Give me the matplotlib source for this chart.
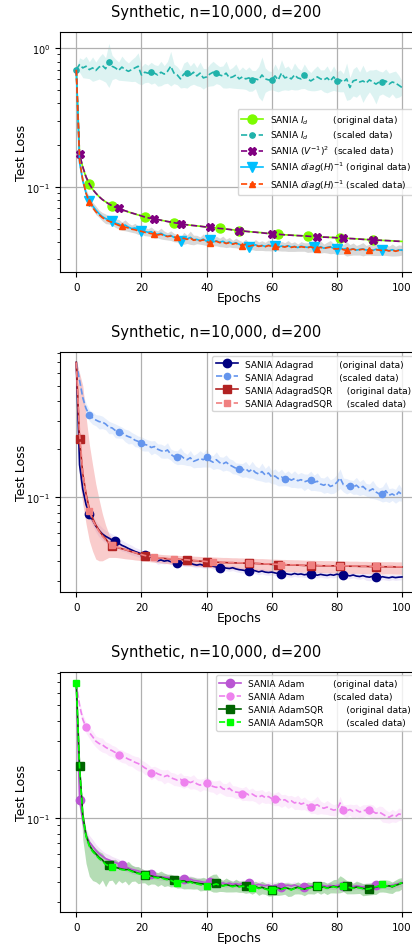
import numpy as np
import matplotlib
matplotlib.use("Agg")
from matplotlib import pyplot as plt

epochs = np.arange(101)
title = "Synthetic, n=10,000, d=200"

# ---- panel 1 : SANIA I_d / (V^-1)^2 / diag(H)^-1 ----
id_orig = [
    0.700, 0.172, 0.138, 0.117, 0.104, 0.096, 0.090, 0.085, 0.081, 0.078,
    0.0755, 0.0732, 0.0713, 0.0698, 0.0684, 0.0671, 0.0659, 0.0648, 0.0637, 0.0627,
    0.0618, 0.0607, 0.0599, 0.0592, 0.0586, 0.0580, 0.0574, 0.0569, 0.0563, 0.0558,
    0.0553, 0.0547, 0.0541, 0.0537, 0.0533, 0.0529, 0.0526, 0.0523, 0.0520, 0.0517,
    0.0514, 0.0511, 0.0508, 0.0505, 0.0502, 0.0499, 0.0496, 0.0493, 0.0490, 0.0487,
    0.0484, 0.0481, 0.0478, 0.0476, 0.0473, 0.0471, 0.0469, 0.0467, 0.0464, 0.0461,
    0.0459, 0.0457, 0.0455, 0.0453, 0.0451, 0.0450, 0.0448, 0.0447, 0.0445, 0.0444,
    0.0443, 0.0442, 0.0440, 0.0438, 0.0437, 0.0436, 0.0434, 0.0433, 0.0432, 0.0431,
    0.0430, 0.0429, 0.0427, 0.0426, 0.0424, 0.0423, 0.0422, 0.0420, 0.0419, 0.0417,
    0.0416, 0.0415, 0.0414, 0.0413, 0.0411, 0.0410, 0.0409, 0.0408, 0.0406, 0.0405,
    0.0404]
id_scaled = [
    0.70, 0.76, 0.72, 0.74, 0.70, 0.72, 0.69, 0.73, 0.75, 0.71,
    0.80, 0.74, 0.72, 0.69, 0.73, 0.70, 0.68, 0.70, 0.72, 0.74,
    0.64, 0.67, 0.66, 0.67, 0.66, 0.64, 0.67, 0.65, 0.68, 0.74,
    0.66, 0.64, 0.60, 0.65, 0.66, 0.64, 0.67, 0.63, 0.66, 0.61,
    0.62, 0.65, 0.67, 0.66, 0.64, 0.63, 0.66, 0.61, 0.62, 0.64,
    0.60, 0.62, 0.60, 0.61, 0.59, 0.60, 0.59, 0.64, 0.60, 0.59,
    0.59, 0.63, 0.59, 0.66, 0.61, 0.62, 0.60, 0.64, 0.61, 0.60,
    0.64, 0.60, 0.58, 0.60, 0.62, 0.60, 0.59, 0.61, 0.58, 0.62,
    0.58, 0.59, 0.57, 0.60, 0.52, 0.58, 0.59, 0.57, 0.58, 0.56,
    0.59, 0.57, 0.55, 0.57, 0.57, 0.58, 0.55, 0.57, 0.56, 0.54,
    0.52]
id_scaled_spread = [
    0.03, 0.12, 0.15, 0.18, 0.14, 0.20, 0.15, 0.18, 0.22, 0.20,
    0.35, 0.20, 0.16, 0.15, 0.20, 0.17, 0.15, 0.18, 0.20, 0.25,
    0.15, 0.16, 0.14, 0.18, 0.15, 0.17, 0.20, 0.15, 0.18, 0.28,
    0.16, 0.15, 0.14, 0.20, 0.22, 0.16, 0.18, 0.15, 0.20, 0.17,
    0.15, 0.18, 0.20, 0.16, 0.15, 0.18, 0.22, 0.15, 0.17, 0.20,
    0.15, 0.18, 0.16, 0.20, 0.17, 0.15, 0.25, 0.35, 0.20, 0.16,
    0.15, 0.22, 0.18, 0.25, 0.18, 0.20, 0.16, 0.22, 0.18, 0.15,
    0.20, 0.17, 0.15, 0.18, 0.20, 0.16, 0.18, 0.22, 0.16, 0.20,
    0.16, 0.18, 0.15, 0.30, 0.18, 0.22, 0.25, 0.18, 0.30, 0.20,
    0.18, 0.22, 0.28, 0.20, 0.18, 0.22, 0.20, 0.18, 0.22, 0.18,
    0.12]
vinv_scaled = [
    0.700, 0.172, 0.139, 0.118, 0.105, 0.096, 0.090, 0.085, 0.081, 0.078,
    0.0752, 0.0730, 0.0712, 0.0700, 0.0685, 0.0672, 0.0660, 0.0648, 0.0638, 0.0628,
    0.0617, 0.0606, 0.0598, 0.0592, 0.0588, 0.0581, 0.0575, 0.0568, 0.0562, 0.0557,
    0.0552, 0.0546, 0.0540, 0.0536, 0.0532, 0.0529, 0.0526, 0.0523, 0.0520, 0.0516,
    0.0513, 0.0510, 0.0508, 0.0505, 0.0501, 0.0499, 0.0496, 0.0493, 0.0489, 0.0486,
    0.0484, 0.0481, 0.0478, 0.0475, 0.0473, 0.0471, 0.0468, 0.0466, 0.0463, 0.0461,
    0.0458, 0.0456, 0.0455, 0.0453, 0.0451, 0.0449, 0.0448, 0.0446, 0.0445, 0.0444,
    0.0443, 0.0441, 0.0439, 0.0438, 0.0437, 0.0435, 0.0434, 0.0433, 0.0432, 0.0431,
    0.0429, 0.0428, 0.0427, 0.0425, 0.0424, 0.0423, 0.0421, 0.0420, 0.0418, 0.0417,
    0.0416, 0.0415, 0.0413, 0.0412, 0.0411, 0.0410, 0.0409, 0.0407, 0.0406, 0.0405,
    0.0404]
diag_orig = [
    0.700, 0.150, 0.110, 0.090, 0.079, 0.073, 0.068, 0.064, 0.061, 0.059,
    0.0580, 0.0563, 0.0548, 0.0540, 0.0522, 0.0530, 0.0512, 0.0500, 0.0505, 0.0488,
    0.0482, 0.0478, 0.0470, 0.0475, 0.0458, 0.0455, 0.0462, 0.0448, 0.0440, 0.0446,
    0.0432, 0.0425, 0.0405, 0.0428, 0.0420, 0.0432, 0.0415, 0.0418, 0.0410, 0.0420,
    0.0405, 0.0413, 0.0400, 0.0408, 0.0398, 0.0405, 0.0392, 0.0400, 0.0388, 0.0395,
    0.0385, 0.0380, 0.0388, 0.0370, 0.0375, 0.0382, 0.0374, 0.0378, 0.0372, 0.0380,
    0.0375, 0.0376, 0.0368, 0.0374, 0.0370, 0.0376, 0.0368, 0.0372, 0.0365, 0.0373,
    0.0369, 0.0366, 0.0372, 0.0366, 0.0364, 0.0370, 0.0361, 0.0366, 0.0370, 0.0360,
    0.0356, 0.0362, 0.0355, 0.0360, 0.0352, 0.0358, 0.0350, 0.0354, 0.0357, 0.0350,
    0.0354, 0.0348, 0.0355, 0.0351, 0.0349, 0.0352, 0.0346, 0.0352, 0.0345, 0.0350,
    0.0350]
diag_spread = [
    0.02, 0.06, 0.07, 0.07, 0.06, 0.06, 0.07, 0.06, 0.07, 0.08,
    0.07, 0.06, 0.07, 0.08, 0.07, 0.09, 0.07, 0.06, 0.08, 0.07,
    0.06, 0.07, 0.06, 0.08, 0.07, 0.06, 0.09, 0.07, 0.06, 0.08,
    0.07, 0.06, 0.07, 0.10, 0.07, 0.11, 0.08, 0.07, 0.06, 0.09,
    0.07, 0.08, 0.06, 0.08, 0.07, 0.09, 0.07, 0.08, 0.06, 0.08,
    0.07, 0.06, 0.08, 0.07, 0.06, 0.09, 0.07, 0.08, 0.07, 0.09,
    0.08, 0.07, 0.06, 0.08, 0.07, 0.09, 0.07, 0.08, 0.06, 0.08,
    0.07, 0.08, 0.09, 0.07, 0.08, 0.10, 0.07, 0.09, 0.11, 0.08,
    0.09, 0.10, 0.08, 0.12, 0.09, 0.10, 0.08, 0.09, 0.11, 0.08,
    0.09, 0.08, 0.10, 0.09, 0.08, 0.09, 0.08, 0.10, 0.08, 0.09,
    0.08]
diag_scaled = [
    0.700, 0.155, 0.112, 0.090, 0.0775, 0.071, 0.066, 0.063, 0.060, 0.058,
    0.0565, 0.0555, 0.0540, 0.0528, 0.0518, 0.0512, 0.0505, 0.0495, 0.0490, 0.0482,
    0.0478, 0.0470, 0.0465, 0.0460, 0.0456, 0.0450, 0.0455, 0.0445, 0.0438, 0.0442,
    0.0435, 0.0432, 0.0420, 0.0426, 0.0418, 0.0428, 0.0412, 0.0416, 0.0408, 0.0415,
    0.0402, 0.0395, 0.0398, 0.0405, 0.0396, 0.0400, 0.0390, 0.0396, 0.0386, 0.0392,
    0.0382, 0.0377, 0.0385, 0.0372, 0.0378, 0.0380, 0.0372, 0.0376, 0.0370, 0.0377,
    0.0373, 0.0372, 0.0367, 0.0372, 0.0368, 0.0374, 0.0366, 0.0370, 0.0364, 0.0370,
    0.0367, 0.0364, 0.0369, 0.0362, 0.0358, 0.0366, 0.0360, 0.0364, 0.0367, 0.0358,
    0.0356, 0.0360, 0.0352, 0.0348, 0.0351, 0.0356, 0.0349, 0.0352, 0.0355, 0.0349,
    0.0353, 0.0347, 0.0352, 0.0350, 0.0347, 0.0350, 0.0345, 0.0350, 0.0343, 0.0348,
    0.0348]

# ---- panel 2 : Adagrad ----
adagrad_orig = [
    0.700, 0.160, 0.112, 0.090, 0.079, 0.072, 0.066, 0.062, 0.059, 0.057,
    0.0555, 0.0540, 0.0530, 0.0515, 0.0500, 0.0490, 0.0478, 0.0468, 0.0458, 0.0450,
    0.0442, 0.0436, 0.0428, 0.0420, 0.0415, 0.0400, 0.0405, 0.0398, 0.0402, 0.0395,
    0.0390, 0.0388, 0.0392, 0.0385, 0.0383, 0.0387, 0.0380, 0.0376, 0.0380, 0.0375,
    0.0374, 0.0376, 0.0370, 0.0366, 0.0362, 0.0366, 0.0360, 0.0358, 0.0362, 0.0356,
    0.0352, 0.0350, 0.0347, 0.0344, 0.0350, 0.0346, 0.0341, 0.0345, 0.0340, 0.0338,
    0.0340, 0.0336, 0.0333, 0.0331, 0.0334, 0.0330, 0.0328, 0.0333, 0.0329, 0.0331,
    0.0327, 0.0330, 0.0331, 0.0328, 0.0325, 0.0329, 0.0326, 0.0324, 0.0328, 0.0325,
    0.0330, 0.0327, 0.0328, 0.0325, 0.0322, 0.0326, 0.0321, 0.0319, 0.0323, 0.0318,
    0.0316, 0.0320, 0.0316, 0.0314, 0.0318, 0.0315, 0.0313, 0.0317, 0.0314, 0.0316,
    0.0317]
adagrad_orig_spread = [
    0.01, 0.05, 0.06, 0.06, 0.07, 0.08, 0.08, 0.09, 0.09, 0.09,
    0.09, 0.09, 0.08, 0.08, 0.08, 0.07, 0.07, 0.07, 0.06, 0.06,
    0.06, 0.05, 0.05, 0.05, 0.05, 0.05, 0.05, 0.04, 0.04, 0.04,
    0.04, 0.04, 0.04, 0.04, 0.04, 0.04, 0.04, 0.04, 0.04, 0.04,
    0.04, 0.04, 0.04, 0.04, 0.04, 0.04, 0.04, 0.04, 0.04, 0.04,
    0.04, 0.04, 0.04, 0.04, 0.04, 0.04, 0.04, 0.04, 0.04, 0.04,
    0.04, 0.04, 0.04, 0.04, 0.04, 0.04, 0.04, 0.04, 0.04, 0.04,
    0.04, 0.04, 0.04, 0.04, 0.04, 0.04, 0.04, 0.04, 0.04, 0.04,
    0.04, 0.04, 0.04, 0.04, 0.04, 0.04, 0.04, 0.04, 0.04, 0.05,
    0.05, 0.05, 0.05, 0.05, 0.04, 0.04, 0.04, 0.04, 0.04, 0.04,
    0.04]
adagrad_scaled = [
    0.70, 0.54, 0.42, 0.36, 0.327, 0.315, 0.305, 0.298, 0.296, 0.288,
    0.275, 0.272, 0.262, 0.258, 0.255, 0.245, 0.240, 0.236, 0.228, 0.224,
    0.218, 0.214, 0.212, 0.205, 0.208, 0.200, 0.196, 0.193, 0.198, 0.186,
    0.180, 0.178, 0.183, 0.176, 0.172, 0.177, 0.168, 0.171, 0.175, 0.172,
    0.178, 0.170, 0.166, 0.172, 0.165, 0.162, 0.166, 0.160, 0.156, 0.152,
    0.150, 0.148, 0.151, 0.145, 0.150, 0.143, 0.140, 0.145, 0.138, 0.142,
    0.134, 0.136, 0.131, 0.134, 0.130, 0.132, 0.128, 0.131, 0.127, 0.129,
    0.125, 0.127, 0.128, 0.124, 0.126, 0.121, 0.119, 0.122, 0.117, 0.119,
    0.124, 0.132, 0.120, 0.118, 0.118, 0.116, 0.119, 0.114, 0.117, 0.112,
    0.110, 0.113, 0.108, 0.105, 0.105, 0.110, 0.103, 0.105, 0.102, 0.108,
    0.104]
adagrad_scaled_spread = [
    0.02, 0.06, 0.07, 0.08, 0.08, 0.09, 0.08, 0.10, 0.09, 0.08,
    0.09, 0.08, 0.10, 0.09, 0.08, 0.09, 0.10, 0.08, 0.09, 0.08,
    0.10, 0.09, 0.08, 0.10, 0.09, 0.08, 0.10, 0.09, 0.11, 0.08,
    0.09, 0.10, 0.12, 0.09, 0.08, 0.11, 0.09, 0.10, 0.12, 0.10,
    0.13, 0.09, 0.10, 0.12, 0.09, 0.10, 0.11, 0.09, 0.10, 0.08,
    0.09, 0.10, 0.11, 0.09, 0.12, 0.10, 0.09, 0.13, 0.10, 0.12,
    0.09, 0.11, 0.10, 0.12, 0.09, 0.11, 0.10, 0.12, 0.10, 0.11,
    0.12, 0.10, 0.14, 0.11, 0.13, 0.10, 0.11, 0.12, 0.10, 0.11,
    0.12, 0.14, 0.10, 0.11, 0.09, 0.10, 0.12, 0.10, 0.11, 0.09,
    0.10, 0.13, 0.10, 0.09, 0.11, 0.14, 0.10, 0.09, 0.10, 0.12,
    0.09]
adagradsqr_orig = [
    0.700, 0.232, 0.140, 0.105, 0.085, 0.074, 0.067, 0.062, 0.058, 0.055,
    0.0515, 0.0498, 0.0490, 0.0482, 0.0476, 0.0470, 0.0463, 0.0456, 0.0450, 0.0443,
    0.0437, 0.0430, 0.0427, 0.0424, 0.0421, 0.0418, 0.0416, 0.0414, 0.0412, 0.0411,
    0.0410, 0.0409, 0.0408, 0.0406, 0.0405, 0.0403, 0.0401, 0.0400, 0.0398, 0.0397,
    0.0395, 0.0394, 0.0393, 0.0392, 0.0391, 0.0390, 0.0390, 0.0389, 0.0389, 0.0388,
    0.0388, 0.0387, 0.0387, 0.0387, 0.0386, 0.0385, 0.0384, 0.0383, 0.0382, 0.0381,
    0.0380, 0.0380, 0.0379, 0.0378, 0.0378, 0.0377, 0.0377, 0.0376, 0.0376, 0.0375,
    0.0374, 0.0374, 0.0373, 0.0373, 0.0373, 0.0372, 0.0372, 0.0372, 0.0372, 0.0372,
    0.0372, 0.0372, 0.0371, 0.0371, 0.0370, 0.0370, 0.0370, 0.0369, 0.0369, 0.0369,
    0.0368, 0.0368, 0.0368, 0.0368, 0.0367, 0.0367, 0.0367, 0.0367, 0.0366, 0.0366,
    0.0366]
adagradsqr_band_hi = [
    0.72, 0.60, 0.50, 0.32, 0.215, 0.160, 0.121, 0.097, 0.079, 0.067,
    0.059, 0.055, 0.053, 0.051, 0.050, 0.049, 0.048, 0.047, 0.0465, 0.046,
    0.0455, 0.0451, 0.0448, 0.0445, 0.0443, 0.0441, 0.0439, 0.0437, 0.0436, 0.0435,
    0.0434, 0.0433, 0.0432, 0.0431, 0.0430, 0.0429, 0.0428, 0.0427, 0.0426, 0.0425,
    0.0425, 0.0424, 0.0423, 0.0422, 0.0421, 0.0420, 0.0420, 0.0419, 0.0418, 0.0418,
    0.0417, 0.0417, 0.0416, 0.0416, 0.0415, 0.0414, 0.0413, 0.0413, 0.0412, 0.0411,
    0.0410, 0.0410, 0.0409, 0.0408, 0.0408, 0.0407, 0.0407, 0.0406, 0.0406, 0.0405,
    0.0404, 0.0404, 0.0403, 0.0403, 0.0402, 0.0402, 0.0401, 0.0401, 0.0401, 0.0400,
    0.0400, 0.0400, 0.0399, 0.0399, 0.0398, 0.0398, 0.0398, 0.0397, 0.0397, 0.0397,
    0.0396, 0.0396, 0.0396, 0.0396, 0.0395, 0.0395, 0.0395, 0.0395, 0.0394, 0.0394,
    0.0394]
adagradsqr_band_lo = [
    0.68, 0.130, 0.091, 0.068, 0.0535, 0.046, 0.041, 0.040, 0.040, 0.041,
    0.042, 0.042, 0.042, 0.0418, 0.0415, 0.0412, 0.0410, 0.0408, 0.0405, 0.0403,
    0.0400, 0.0398, 0.0396, 0.0394, 0.0392, 0.0390, 0.0388, 0.0386, 0.0384, 0.0382,
    0.0380, 0.0378, 0.0377, 0.0375, 0.0374, 0.0372, 0.0371, 0.0369, 0.0368, 0.0366,
    0.0365, 0.0364, 0.0362, 0.0361, 0.0360, 0.0359, 0.0358, 0.0357, 0.0356, 0.0355,
    0.0354, 0.0353, 0.0352, 0.0351, 0.0350, 0.0349, 0.0348, 0.0348, 0.0347, 0.0346,
    0.0345, 0.0345, 0.0344, 0.0343, 0.0343, 0.0342, 0.0342, 0.0341, 0.0341, 0.0340,
    0.0340, 0.0339, 0.0339, 0.0338, 0.0338, 0.0337, 0.0337, 0.0337, 0.0336, 0.0336,
    0.0336, 0.0335, 0.0335, 0.0335, 0.0334, 0.0334, 0.0334, 0.0333, 0.0333, 0.0333,
    0.0332, 0.0332, 0.0332, 0.0332, 0.0331, 0.0331, 0.0331, 0.0331, 0.0330, 0.0330,
    0.0330]
adagradsqr_scaled = [
    0.700, 0.250, 0.145, 0.102, 0.0824, 0.072, 0.066, 0.061, 0.057, 0.054,
    0.0520, 0.0502, 0.0492, 0.0484, 0.0477, 0.0471, 0.0464, 0.0457, 0.0451, 0.0444,
    0.0438, 0.0432, 0.0428, 0.0425, 0.0422, 0.0419, 0.0417, 0.0415, 0.0413, 0.0412,
    0.0411, 0.0410, 0.0409, 0.0407, 0.0406, 0.0404, 0.0402, 0.0401, 0.0399, 0.0398,
    0.0396, 0.0395, 0.0394, 0.0393, 0.0392, 0.0391, 0.0391, 0.0390, 0.0390, 0.0389,
    0.0389, 0.0388, 0.0388, 0.0388, 0.0387, 0.0386, 0.0385, 0.0384, 0.0383, 0.0382,
    0.0381, 0.0381, 0.0380, 0.0379, 0.0379, 0.0378, 0.0378, 0.0377, 0.0377, 0.0376,
    0.0375, 0.0375, 0.0374, 0.0374, 0.0374, 0.0373, 0.0373, 0.0373, 0.0373, 0.0373,
    0.0373, 0.0373, 0.0372, 0.0372, 0.0371, 0.0371, 0.0371, 0.0370, 0.0370, 0.0370,
    0.0369, 0.0369, 0.0369, 0.0369, 0.0368, 0.0368, 0.0368, 0.0368, 0.0367, 0.0367,
    0.0367]

# ---- panel 3 : Adam ----
adam_orig = [
    0.690, 0.130, 0.095, 0.078, 0.071, 0.067, 0.063, 0.060, 0.058, 0.056,
    0.0550, 0.0540, 0.0530, 0.0520, 0.0510, 0.0500, 0.0490, 0.0480, 0.0475, 0.0470,
    0.0462, 0.0455, 0.0450, 0.0449, 0.0440, 0.0435, 0.0432, 0.0430, 0.0428, 0.0425,
    0.0422, 0.0420, 0.0418, 0.0416, 0.0414, 0.0418, 0.0410, 0.0408, 0.0404, 0.0400,
    0.0398, 0.0402, 0.0396, 0.0398, 0.0393, 0.0396, 0.0390, 0.0395, 0.0388, 0.0392,
    0.0387, 0.0394, 0.0390, 0.0394, 0.0386, 0.0382, 0.0388, 0.0383, 0.0380, 0.0384,
    0.0378, 0.0383, 0.0380, 0.0375, 0.0380, 0.0383, 0.0378, 0.0384, 0.0377, 0.0373,
    0.0375, 0.0380, 0.0378, 0.0383, 0.0379, 0.0384, 0.0380, 0.0377, 0.0382, 0.0378,
    0.0381, 0.0385, 0.0380, 0.0384, 0.0379, 0.0376, 0.0380, 0.0377, 0.0374, 0.0378,
    0.0376, 0.0381, 0.0384, 0.0380, 0.0386, 0.0382, 0.0378, 0.0383, 0.0388, 0.0392,
    0.0398]
adam_orig_spread = [
    0.01, 0.05, 0.08, 0.10, 0.10, 0.10, 0.09, 0.09, 0.08, 0.08,
    0.08, 0.07, 0.07, 0.07, 0.06, 0.06, 0.06, 0.06, 0.06, 0.05,
    0.05, 0.05, 0.05, 0.05, 0.05, 0.05, 0.05, 0.05, 0.05, 0.05,
    0.05, 0.05, 0.05, 0.05, 0.05, 0.05, 0.05, 0.05, 0.05, 0.05,
    0.05, 0.05, 0.05, 0.05, 0.05, 0.05, 0.05, 0.05, 0.05, 0.05,
    0.05, 0.05, 0.05, 0.05, 0.05, 0.05, 0.05, 0.05, 0.05, 0.05,
    0.05, 0.05, 0.05, 0.05, 0.05, 0.05, 0.05, 0.05, 0.05, 0.05,
    0.05, 0.05, 0.05, 0.05, 0.05, 0.05, 0.05, 0.05, 0.05, 0.05,
    0.05, 0.05, 0.05, 0.05, 0.05, 0.05, 0.05, 0.05, 0.05, 0.05,
    0.05, 0.05, 0.05, 0.05, 0.05, 0.05, 0.05, 0.05, 0.05, 0.05,
    0.05]
adam_scaled = [
    0.69, 0.50, 0.41, 0.366, 0.34, 0.32, 0.30, 0.29, 0.285, 0.275,
    0.268, 0.262, 0.255, 0.247, 0.243, 0.238, 0.232, 0.228, 0.222, 0.218,
    0.212, 0.205, 0.200, 0.190, 0.194, 0.188, 0.185, 0.181, 0.184, 0.178,
    0.175, 0.172, 0.174, 0.168, 0.170, 0.166, 0.169, 0.163, 0.160, 0.163,
    0.165, 0.160, 0.157, 0.155, 0.158, 0.152, 0.150, 0.153, 0.147, 0.145,
    0.144, 0.141, 0.143, 0.139, 0.141, 0.137, 0.135, 0.138, 0.134, 0.136,
    0.132, 0.131, 0.133, 0.128, 0.130, 0.126, 0.128, 0.124, 0.126, 0.122,
    0.124, 0.120, 0.117, 0.119, 0.121, 0.117, 0.115, 0.117, 0.114, 0.112,
    0.113, 0.124, 0.112, 0.111, 0.113, 0.110, 0.112, 0.109, 0.111, 0.112,
    0.112, 0.110, 0.107, 0.109, 0.106, 0.103, 0.101, 0.104, 0.102, 0.106,
    0.105]
adam_scaled_spread = [
    0.02, 0.06, 0.07, 0.08, 0.08, 0.09, 0.08, 0.09, 0.10, 0.08,
    0.09, 0.08, 0.09, 0.08, 0.09, 0.08, 0.09, 0.08, 0.09, 0.10,
    0.08, 0.09, 0.08, 0.09, 0.08, 0.09, 0.08, 0.10, 0.09, 0.08,
    0.09, 0.08, 0.10, 0.09, 0.08, 0.09, 0.10, 0.08, 0.09, 0.08,
    0.10, 0.09, 0.08, 0.10, 0.09, 0.08, 0.09, 0.11, 0.08, 0.09,
    0.08, 0.09, 0.10, 0.08, 0.09, 0.08, 0.10, 0.09, 0.08, 0.09,
    0.08, 0.09, 0.10, 0.09, 0.08, 0.09, 0.08, 0.09, 0.10, 0.08,
    0.09, 0.08, 0.09, 0.10, 0.13, 0.09, 0.08, 0.10, 0.09, 0.08,
    0.09, 0.10, 0.08, 0.09, 0.08, 0.10, 0.09, 0.08, 0.09, 0.08,
    0.09, 0.10, 0.08, 0.09, 0.11, 0.09, 0.08, 0.09, 0.08, 0.09,
    0.08]
adamsqr_orig = [
    0.690, 0.211, 0.105, 0.078, 0.068, 0.063, 0.060, 0.057, 0.055, 0.052,
    0.0510, 0.0502, 0.0495, 0.0488, 0.0482, 0.0478, 0.0480, 0.0470, 0.0462, 0.0455,
    0.0450, 0.0445, 0.0440, 0.0438, 0.0432, 0.0428, 0.0430, 0.0422, 0.0418, 0.0415,
    0.0412, 0.0408, 0.0405, 0.0408, 0.0400, 0.0404, 0.0398, 0.0395, 0.0392, 0.0390,
    0.0386, 0.0390, 0.0386, 0.0394, 0.0385, 0.0380, 0.0386, 0.0382, 0.0378, 0.0383,
    0.0376, 0.0380, 0.0379, 0.0374, 0.0370, 0.0376, 0.0368, 0.0372, 0.0365, 0.0360,
    0.0357, 0.0364, 0.0368, 0.0362, 0.0370, 0.0366, 0.0360, 0.0367, 0.0372, 0.0366,
    0.0362, 0.0368, 0.0372, 0.0375, 0.0376, 0.0370, 0.0374, 0.0368, 0.0373, 0.0377,
    0.0372, 0.0378, 0.0380, 0.0376, 0.0372, 0.0368, 0.0373, 0.0370, 0.0366, 0.0364,
    0.0362, 0.0368, 0.0373, 0.0377, 0.0382, 0.0376, 0.0380, 0.0374, 0.0382, 0.0388,
    0.0395]
adamsqr_band_up = [
    0.01, 0.05, 0.06, 0.06, 0.07, 0.08, 0.08, 0.09, 0.10, 0.09,
    0.08, 0.10, 0.12, 0.09, 0.08, 0.10, 0.12, 0.09, 0.08, 0.10,
    0.08, 0.07, 0.08, 0.09, 0.08, 0.07, 0.09, 0.08, 0.07, 0.08,
    0.07, 0.08, 0.07, 0.09, 0.08, 0.07, 0.08, 0.07, 0.08, 0.10,
    0.09, 0.12, 0.16, 0.14, 0.09, 0.08, 0.10, 0.08, 0.07, 0.09,
    0.08, 0.07, 0.08, 0.09, 0.07, 0.08, 0.07, 0.09, 0.08, 0.07,
    0.08, 0.07, 0.09, 0.08, 0.07, 0.08, 0.09, 0.07, 0.08, 0.07,
    0.08, 0.09, 0.07, 0.08, 0.07, 0.09, 0.08, 0.07, 0.08, 0.10,
    0.12, 0.16, 0.12, 0.09, 0.08, 0.07, 0.09, 0.08, 0.07, 0.08,
    0.09, 0.08, 0.07, 0.09, 0.08, 0.10, 0.08, 0.07, 0.08, 0.09,
    0.08]
adamsqr_band_dn = [
    0.01, 0.15, 0.30, 0.33, 0.36, 0.35, 0.33, 0.32, 0.25, 0.28,
    0.20, 0.18, 0.22, 0.16, 0.18, 0.15, 0.20, 0.14, 0.12, 0.14,
    0.12, 0.11, 0.13, 0.11, 0.10, 0.12, 0.10, 0.11, 0.09, 0.10,
    0.09, 0.10, 0.09, 0.11, 0.09, 0.10, 0.09, 0.08, 0.10, 0.09,
    0.08, 0.09, 0.10, 0.12, 0.09, 0.08, 0.10, 0.09, 0.08, 0.09,
    0.08, 0.09, 0.10, 0.08, 0.09, 0.08, 0.10, 0.09, 0.08, 0.09,
    0.08, 0.09, 0.10, 0.08, 0.09, 0.11, 0.09, 0.08, 0.09, 0.08,
    0.09, 0.08, 0.09, 0.10, 0.08, 0.09, 0.08, 0.09, 0.08, 0.09,
    0.08, 0.09, 0.08, 0.10, 0.09, 0.08, 0.09, 0.08, 0.10, 0.09,
    0.08, 0.09, 0.10, 0.08, 0.09, 0.08, 0.10, 0.09, 0.08, 0.09,
    0.08]
adamsqr_scaled = [
    0.690, 0.205, 0.102, 0.077, 0.067, 0.062, 0.059, 0.056, 0.054, 0.0515,
    0.0505, 0.0498, 0.0490, 0.0484, 0.0478, 0.0475, 0.0476, 0.0466, 0.0458, 0.0452,
    0.0447, 0.0442, 0.0437, 0.0434, 0.0428, 0.0425, 0.0427, 0.0418, 0.0414, 0.0410,
    0.0402, 0.0398, 0.0400, 0.0404, 0.0396, 0.0400, 0.0393, 0.0390, 0.0386, 0.0382,
    0.0376, 0.0380, 0.0385, 0.0390, 0.0383, 0.0378, 0.0383, 0.0379, 0.0375, 0.0380,
    0.0374, 0.0377, 0.0376, 0.0370, 0.0366, 0.0372, 0.0365, 0.0369, 0.0362, 0.0358,
    0.0360, 0.0362, 0.0366, 0.0360, 0.0368, 0.0364, 0.0358, 0.0365, 0.0370, 0.0364,
    0.0360, 0.0366, 0.0370, 0.0374, 0.0376, 0.0368, 0.0372, 0.0366, 0.0371, 0.0375,
    0.0370, 0.0376, 0.0378, 0.0374, 0.0370, 0.0366, 0.0371, 0.0368, 0.0364, 0.0362,
    0.0364, 0.0370, 0.0375, 0.0380, 0.0389, 0.0378, 0.0382, 0.0376, 0.0384, 0.0390,
    0.0397]


def draw(ax, y, lo, hi, color, band, band_alpha, ls, marker, ms, marks, label):
    y = np.asarray(y)
    if lo is not None:
        ax.fill_between(epochs, lo, hi, color=band, alpha=band_alpha, lw=0)
    ax.plot(epochs, y, ls=ls, color=color, marker=marker, ms=ms, markevery=marks,
            lw=1.2, label=label)


def style(ax, ylim, legend_loc, spacing):
    ax.set_yscale('log')
    ax.set_xlim(-5, 105)
    ax.set_ylim(*ylim)
    ax.set_title(title, fontsize=10.5, x=0.437, pad=11.5)
    ax.set_xlabel('Epochs', fontsize=9, labelpad=-1)
    ax.set_ylabel('Test Loss', fontsize=9, labelpad=-1)
    ax.set_xticks([0, 20, 40, 60, 80, 100])
    ax.tick_params(axis='x', labelsize=7.5)
    ax.tick_params(axis='y', labelsize=7)
    ax.grid(True, which='major', color='#b0b0b0', lw=0.9)
    ax.legend(loc=legend_loc, fontsize=6.5, framealpha=0.8, borderaxespad=0.4,
              handlelength=2.4, labelspacing=spacing)


fig = plt.figure(figsize=(4.12, 9.45), dpi=100)
W, H = 412.0, 945.0
left, width = 60 / W, (418.3 - 60) / W

# panel 1
ax1 = fig.add_axes([left, 1 - 273.3 / H, width, 240 / H])
y = np.asarray(id_scaled); s = np.asarray(id_scaled_spread)
draw(ax1, id_orig, None, None, '#7CFC00', None, 0, '-', 'o', 6.5,
     [4, 11, 21, 30, 44, 50, 62, 71, 81, 91], 'SANIA $I_d$         (original data)')
draw(ax1, y, y * (1 - s), y * (1 + s), 'lightseagreen', 'lightseagreen', 0.15, '--', 'o', 3.8,
     [0, 10, 23, 34, 43, 54, 60, 70, 80, 94], 'SANIA $I_d$         (scaled data)')
draw(ax1, vinv_scaled, None, None, 'purple', None, 0, '--', 'X', 6,
     [1, 13, 24, 32, 41, 50, 60, 74, 82, 91], 'SANIA $(V^{-1})^2$  (scaled data)')
y = np.asarray(diag_orig); s = np.asarray(diag_spread)
draw(ax1, y, y * (1 - s), y * (1 + s), 'deepskyblue', 'gray', 0.3, '-', 'v', 6.5,
     [4, 11, 20, 32, 41, 53, 61, 73, 80, 94], 'SANIA $diag(H)^{-1}$ (original data)')
draw(ax1, diag_scaled, None, None, 'orangered', None, 0, '--', '^', 4,
     [4, 14, 24, 31, 41, 51, 61, 74, 83, 90], 'SANIA $diag(H)^{-1}$ (scaled data)')
style(ax1, (0.0242, 1.30), 'center right', 0.3)

# panel 2
ax2 = fig.add_axes([left, 1 - 593.3 / H, width, 240 / H])
y = np.asarray(adagrad_orig); s = np.asarray(adagrad_orig_spread)
draw(ax2, y, y * (1 - s), y * (1 + s), 'navy', 'mediumpurple', 0.15, '-', 'o', 6,
     [4, 12, 21, 31, 44, 53, 63, 72, 82, 92], 'SANIA Adagrad         (original data)')
y = np.asarray(adagrad_scaled); s = np.asarray(adagrad_scaled_spread)
draw(ax2, y, y * (1 - s), y * (1 + s), 'cornflowerblue', 'cornflowerblue', 0.15, '--', 'o', 4.5,
     [4, 13, 20, 31, 40, 50, 64, 72, 84, 94], 'SANIA Adagrad         (scaled data)')
draw(ax2, adagradsqr_orig, adagradsqr_band_lo, adagradsqr_band_hi, 'firebrick', 'lightcoral', 0.4,
     '-', 's', 6, [1, 11, 21, 34, 40, 53, 62, 72, 81, 92], 'SANIA AdagradSQR     (original data)')
draw(ax2, adagradsqr_scaled, None, None, 'lightcoral', None, 0, '--', 's', 5,
     [4, 11, 24, 30, 42, 53, 63, 72, 81, 92], 'SANIA AdagradSQR     (scaled data)')
style(ax2, (0.0254, 0.81), 'upper right', 0.45)

# panel 3
ax3 = fig.add_axes([left, 1 - 913.3 / H, width, 240.6 / H])
y = np.asarray(adam_orig); s = np.asarray(adam_orig_spread)
draw(ax3, y, y * (1 - s), y * (1 + s), 'mediumorchid', 'mediumorchid', 0.15, '-', 'o', 6,
     [1, 14, 23, 33, 41, 53, 63, 70, 82, 92], 'SANIA Adam          (original data)')
y = np.asarray(adam_scaled); s = np.asarray(adam_scaled_spread)
draw(ax3, y, y * (1 - s), y * (1 + s), 'violet', 'violet', 0.15, '--', 'o', 5,
     [3, 13, 23, 33, 40, 51, 61, 72, 82, 90], 'SANIA Adam          (scaled data)')
y = np.asarray(adamsqr_orig)
draw(ax3, y, y * (1 - np.asarray(adamsqr_band_dn)), y * (1 + np.asarray(adamsqr_band_up)),
     'darkgreen', 'tab:green', 0.35, '-', 's', 6,
     [1, 10, 21, 30, 43, 52, 60, 74, 83, 90], 'SANIA AdamSQR        (original data)')
draw(ax3, adamsqr_scaled, None, None, 'lime', None, 0, '--', 's', 5,
     [0, 11, 21, 31, 40, 54, 60, 74, 82, 94], 'SANIA AdamSQR        (scaled data)')
style(ax3, (0.026, 0.81), 'upper right', 0.45)

fig.savefig('out.png', dpi=100)
